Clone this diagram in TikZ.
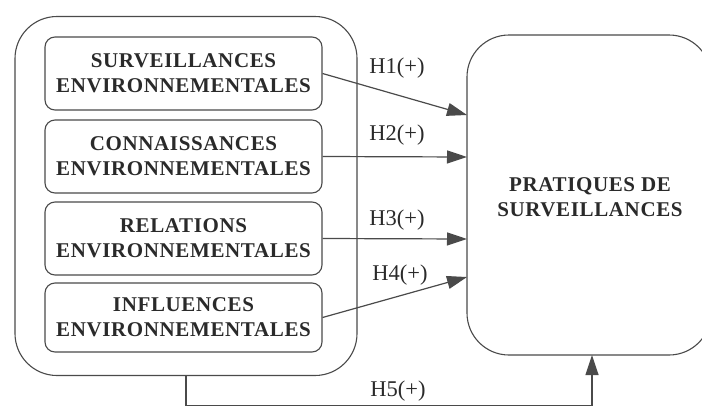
\documentclass[tikz,border=0pt]{standalone}
\usepackage{fontspec}
\setmainfont{Liberation Serif}
\newfontfamily\boxfont[LetterSpace=3]{Liberation Serif}
\usetikzlibrary{arrows.meta}
\definecolor{linegray}{HTML}{4A4A4A}
\definecolor{txtgray}{HTML}{2A2A2A}
\tikzset{
  innerbox/.style={draw=linegray, line width=1.1pt, rounded corners=10pt,
    minimum width=277pt, align=center, text=txtgray,
    font=\boxfont\bfseries\fontsize{21}{25}\selectfont},
  bigbox/.style={draw=linegray, line width=1.1pt, rounded corners=42pt},
  hyp/.style={draw=linegray, line width=1.2pt, -{Triangle[length=20pt,width=13pt]}},
  hlabel/.style={text=txtgray, font=\fontsize{22.5}{25}\selectfont},
}
\begin{document}
\begin{tikzpicture}[x=1pt,y=-1pt]
\clip (0,0) rectangle (702,405);
\fill[white] (0,0) rectangle (702,405);
% outer group
\node[bigbox, minimum width=342pt, minimum height=359pt] (outer) at (186,196) {};
\node[innerbox, minimum height=73pt] (b1) at (183.5,73.5) {SURVEILLANCES\\ENVIRONNEMENTALES};
\node[innerbox, minimum height=73pt] (b2) at (183.5,156.5) {CONNAISSANCES\\ENVIRONNEMENTALES};
\node[innerbox, minimum height=73pt] (b3) at (183.5,238.5) {RELATIONS\\ENVIRONNEMENTALES};
\node[innerbox, minimum height=69pt] (b4) at (183.5,317.5) {INFLUENCES\\ENVIRONNEMENTALES};
% right box
\node[bigbox, minimum width=244pt, minimum height=320pt] (pr) at (589,195) {};
\node[text=txtgray, align=center, font=\boxfont\bfseries\fontsize{21}{25}\selectfont] (prt) at (590,197) {PRATIQUES DE\\SURVEILLANCES};
% targets
\coordinate (t1) at (467,115);
\coordinate (t2) at (467,157);
\coordinate (t3) at (467,239);
\coordinate (t4) at (467,277);
\draw[hyp] (b1.east) -- (t1);
\draw[hyp] (b2.east) -- (t2);
\draw[hyp] (b3.east) -- (t3);
\draw[hyp] (b4.east) -- (t4);
\node[hlabel] (h1) at (397,68) {H1(+)};
\node[hlabel] (h2) at (397,135) {H2(+)};
\node[hlabel] (h3) at (397,220) {H3(+)};
\node[hlabel] (h4) at (400,275) {H4(+)};
\node[hlabel] (h5) at (398,391) {H5(+)};
% bottom connector
\coordinate (c1) at (186,405.8);
\coordinate (c2) at (592,405.8);
\coordinate (c3) at (592,355);
\draw[hyp] (186,375) -- (c1) -- (c2) -- (c3);
\end{tikzpicture}
\end{document}
